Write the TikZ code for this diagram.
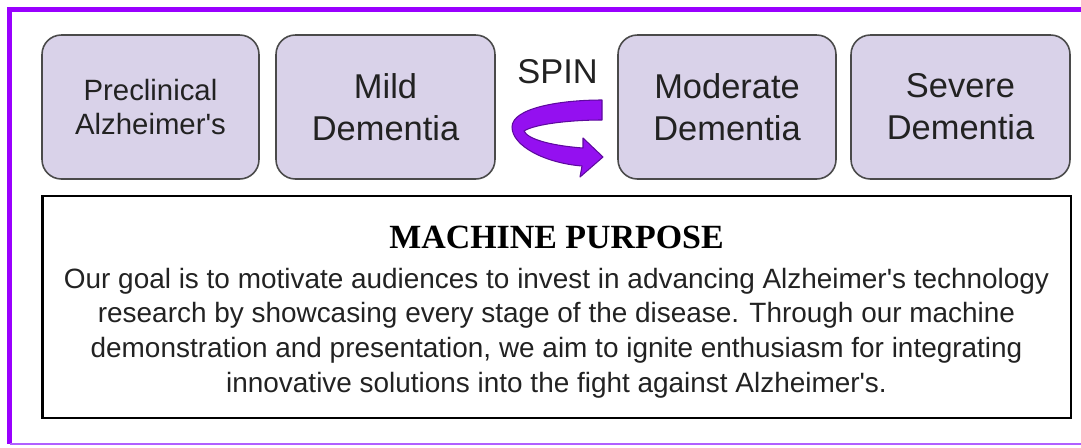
\documentclass[tikz,border=0pt]{standalone}
\usepackage{fontspec}
\setmainfont{Liberation Sans}[Ligatures=TeXOff]
\newfontfamily\headfont{Liberation Serif}[Ligatures=TeXOff]
\definecolor{framepurple}{HTML}{9900FF}
\definecolor{framelight}{HTML}{B060FF}
\definecolor{boxfill}{HTML}{D9D2E9}
\definecolor{boxline}{HTML}{4A4A4A}
\definecolor{txt}{HTML}{222222}
\definecolor{arrowfill}{HTML}{9410F0}
\definecolor{arrowline}{HTML}{5E0A9E}
\tikzset{
  stage/.style={draw=boxline, line width=0.9pt, fill=boxfill, rounded corners=11pt,
    inner sep=0pt, align=center, text=txt,
    font=\fontsize{19.6}{23.8}\selectfont},
  stagesmall/.style={stage, font=\fontsize{16.7}{19.3}\selectfont},
  purposebox/.style={draw=black, line width=1.6pt, inner sep=0pt},
}
\begin{document}
\begin{tikzpicture}[x=0.02cm, y=-0.02cm]
\useasboundingbox (0,0) rectangle (1081,447);
\clip (0,0) rectangle (1081,447);
% outer purple frame (open to the right)
\draw[framepurple, line width=2.8pt] (1100,9.5) -- (9.5,9.5) -- (9.5,444);
\draw[framelight, line width=1.3pt] (9.5,444) -- (1100,444);
% stage boxes
\node[stagesmall, minimum width=4.34cm, minimum height=2.88cm] (pre) at (150.5,107) {Preclinical\\Alzheimer's};
\node[stage, minimum width=4.38cm, minimum height=2.88cm] (mild) at (385.5,107) {Mild\\Dementia};
\node[stage, minimum width=4.36cm, minimum height=2.88cm] (mod) at (727,107) {Moderate\\Dementia};
\node[stage, minimum width=4.38cm, minimum height=2.88cm] (sev) at (960.5,107) {Severe\\Dementia};
% spin label and arrow
\node[anchor=base, inner sep=0pt, text=txt, font=\fontsize{19.6}{23.8}\selectfont] (spin) at (557.5,83) {SPIN};
\filldraw[fill=arrowfill, draw=arrowline, line width=0.6pt, line join=round]
  (602,100) .. controls (560,100) and (512,108) .. (512,127)
  .. controls (512,146) and (545,163) .. (582,166)
  -- (580,177) -- (603,157) -- (583,138) -- (583,148)
  .. controls (555,146) and (528,140) .. (524,131)
  .. controls (535,124) and (570,120) .. (602,120) -- cycle;
% purpose box
\node[purposebox, minimum width=20.58cm, minimum height=4.44cm] (purpose) at (556.5,307) {};
\node[anchor=base, inner sep=0pt, text=black, font=\headfont\bfseries\fontsize{19.3}{23}\selectfont] (title) at (556.5,248) {MACHINE PURPOSE};
\node[inner sep=0pt, align=center, text=txt, font=\fontsize{15.9}{19.8}\selectfont] (body) at (556.5,333)
  {Our goal is to motivate audiences to invest in advancing Alzheimer's technology\\
   research by showcasing every stage of the disease. Through our machine\\
   demonstration and presentation, we aim to ignite enthusiasm for integrating\\
   innovative solutions into the fight against Alzheimer's.};
\end{tikzpicture}
\end{document}
